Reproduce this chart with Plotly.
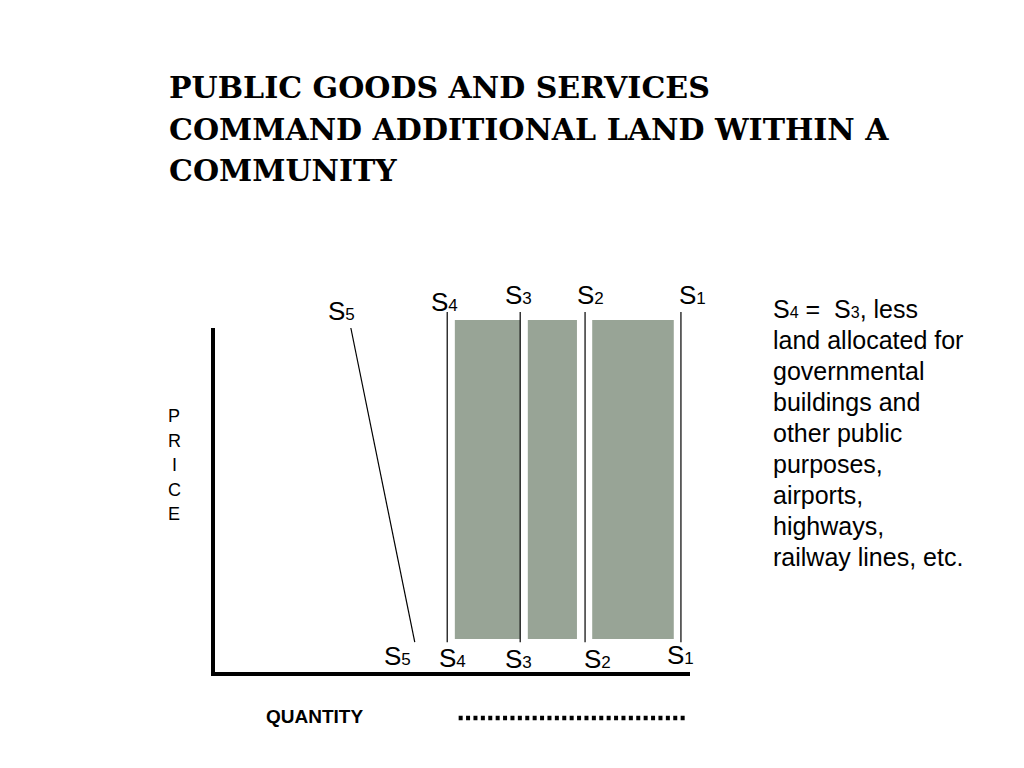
import plotly.graph_objects as go

# ---------------- data (quantity / price units) ----------------
supply_names = ["1", "2", "3", "4", "5"]            # subscripts of S
supply_q_at_high_price = [98.1, 78.0, 64.4, 49.1, 28.9]
supply_q_at_low_price = [98.1, 78.0, 64.4, 49.1, 42.3]
supply_p_high = [104.6, 104.6, 104.6, 104.6, 100.0]
supply_p_low = [9.2, 9.2, 9.2, 9.2, 9.2]

land_left = [50.7, 66.0, 79.5]
land_right = [64.4, 76.3, 96.6]
land_bottom = 10.1
land_top = 102.3

axis_q = [0, 0, 100]
axis_p = [100, 0, 0]

dots_q = [51.5, 99.2]
dots_p = [-12.7, -12.7]

title_lines = [
    "PUBLIC GOODS AND SERVICES",
    "COMMAND ADDITIONAL LAND WITHIN A",
    "COMMUNITY",
]
side_lines = [
    "S<span style='font-size:16px'>4</span> =  S<span style='font-size:16px'>3</span>, less",
    "land allocated for",
    "governmental",
    "buildings and",
    "other public",
    "purposes,",
    "airports,",
    "highways,",
    "railway lines, etc.",
]
price_letters = ["P", "R", "I", "C", "E"]
quantity_label = "QUANTITY"

# label offsets (pixels) relative to line ends: top labels, bottom labels
top_label_shift = [(12, 17), (5, 17), (-2, 17), (-3, 10), (-9, 17)]
bot_label_shift = [(0, -13), (12, -17), (-2, -17), (5, -16), (-17, -14)]

# ---------------- page mapping ----------------
W, H = 1024, 768
OFF = 8                 # default page margin around the plot div
X0, SX = 213 - OFF, 4.77     # pixel x of quantity 0, px per unit
Y0, SY = 674 - OFF, 3.46     # pixel y of price 0, px per unit
x_range = [-X0 / SX, (W - X0) / SX]
y_range = [-(H - Y0) / SY, Y0 / SY]


def px(x):
    return (x - OFF) / W


def py(y):
    return 1 - (y - OFF) / H


BAR_COLOR = "#98A496"
FONT = "Liberation Sans, Arial, sans-serif"

fig = go.Figure()

# land blocks
fig.add_trace(go.Bar(
    x=[(l + r) / 2 for l, r in zip(land_left, land_right)],
    y=[land_top - land_bottom] * len(land_left),
    base=[land_bottom] * len(land_left),
    width=[r - l for l, r in zip(land_left, land_right)],
    marker=dict(color=BAR_COLOR, line=dict(width=0)),
    hoverinfo="skip",
))

# supply lines
for i, n in enumerate(supply_names):
    fig.add_trace(go.Scatter(
        x=[supply_q_at_high_price[i], supply_q_at_low_price[i]],
        y=[supply_p_high[i], supply_p_low[i]],
        mode="lines", line=dict(color="black", width=1.2),
        hoverinfo="skip",
    ))

# axes
fig.add_trace(go.Scatter(
    x=axis_q, y=axis_p, mode="lines",
    line=dict(color="black", width=4),
    hoverinfo="skip",
))

# dotted line under the quantity axis
fig.add_trace(go.Scatter(
    x=dots_q, y=dots_p, mode="lines",
    line=dict(color="black", width=4.5, dash="4px,3.4px"),
    hoverinfo="skip",
))

ann = []


def s_label(n):
    return "S<span style='font-size:17px'>" + n + "</span>"


for i, n in enumerate(supply_names):
    dx, dy = top_label_shift[i]
    ann.append(dict(x=supply_q_at_high_price[i], y=supply_p_high[i], xref="x", yref="y",
                    text=s_label(n), showarrow=False, xanchor="center", yanchor="middle",
                    xshift=dx, yshift=dy, font=dict(family=FONT, size=26, color="black")))
    dx, dy = bot_label_shift[i]
    ann.append(dict(x=supply_q_at_low_price[i], y=supply_p_low[i], xref="x", yref="y",
                    text=s_label(n), showarrow=False, xanchor="center", yanchor="middle",
                    xshift=dx, yshift=dy, font=dict(family=FONT, size=26, color="black")))

# title
for k, line in enumerate(title_lines):
    ann.append(dict(x=px(167), y=py(88 + 41 * k), xref="paper", yref="paper",
                    text="<b>" + line + "</b>", showarrow=False, xanchor="left", yanchor="middle",
                    font=dict(family="DejaVu Serif", size=30, color="black")))

# side note
for k, line in enumerate(side_lines):
    ann.append(dict(x=px(771), y=py(309 + 31 * k), xref="paper", yref="paper",
                    text=line, showarrow=False, xanchor="left", yanchor="middle",
                    font=dict(family=FONT, size=25, color="black")))

# PRICE
for k, ch in enumerate(price_letters):
    ann.append(dict(x=px(174), y=py(416 + 24.5 * k), xref="paper", yref="paper",
                    text=ch, showarrow=False, xanchor="center", yanchor="middle",
                    font=dict(family=FONT, size=18, color="black")))

# QUANTITY
ann.append(dict(x=px(314), y=py(716), xref="paper", yref="paper",
                text="<b>" + quantity_label + "</b>", showarrow=False,
                xanchor="center", yanchor="middle",
                font=dict(family=FONT, size=19, color="black")))

fig.update_layout(
    width=W, height=H,
    margin=dict(l=0, r=0, t=0, b=0),
    paper_bgcolor="white", plot_bgcolor="white",
    showlegend=False, barmode="overlay",
    xaxis=dict(range=x_range, visible=False, fixedrange=True),
    yaxis=dict(range=y_range, visible=False, fixedrange=True),
    annotations=ann,
)

fig.write_html("out.html", config={"displayModeBar": False})
